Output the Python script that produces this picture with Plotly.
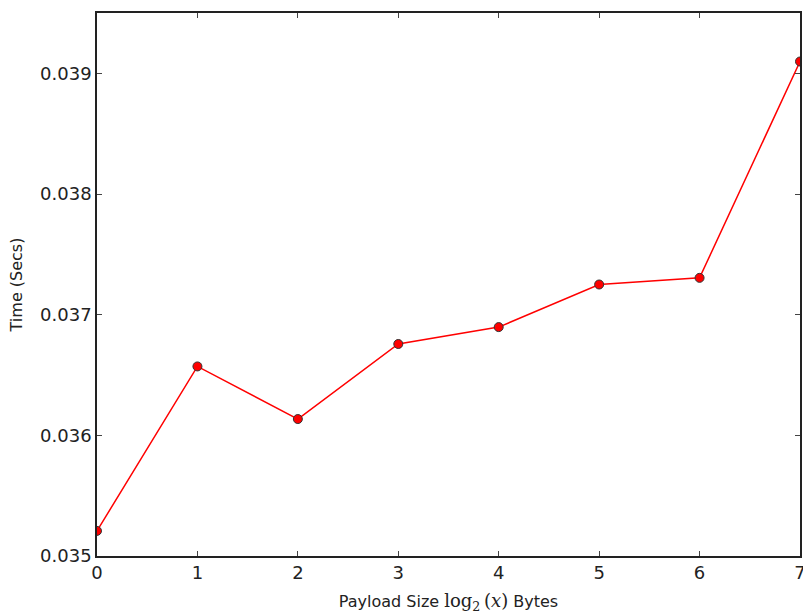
import plotly.graph_objects as go

payload_log2 = [0, 1, 2, 3, 4, 5, 6, 7]
time_secs = [0.035208, 0.036571, 0.036135, 0.036757, 0.036897, 0.037250, 0.037305, 0.039098]
y_ticks = [0.035, 0.036, 0.037, 0.038, 0.039]
x_ticks = [0, 1, 2, 3, 4, 5, 6, 7]

fig = go.Figure()
fig.add_trace(go.Scatter(
    x=payload_log2, y=time_secs, mode="lines+markers",
    line=dict(color="#ff0000", width=1.5),
    marker=dict(color="#ff0000", size=9, line=dict(color="#333333", width=1)),
    cliponaxis=True, showlegend=False,
))

axis_common = dict(
    showgrid=False, zeroline=False, showline=True, linecolor="#222222", linewidth=1.5,
    mirror="allticks", ticks="inside", ticklen=5, tickwidth=1, tickcolor="#444444",
    tickfont=dict(family="DejaVu Sans", size=18, color="#222222"),
    automargin=False, ticklabeloverflow="allow",
)

fig.update_xaxes(range=[0, 7], tickvals=x_ticks, ticktext=[str(v) for v in x_ticks],
                 title=dict(text="Payload Size <span style='font-family:DejaVu Serif;font-size:18px'>log<sub>2</sub>\u2009(<i>x</i>)</span> Bytes",
                            font=dict(family="DejaVu Sans", size=16, color="#222222"), standoff=14),
                 **axis_common)
fig.update_yaxes(range=[0.035, 0.0395], tickvals=y_ticks, ticktext=[f"{v:.3f}" for v in y_ticks],
                 title=dict(text="Time (Secs)", font=dict(family="DejaVu Sans", size=16, color="#222222"), standoff=14),
                 **axis_common)

fig.update_layout(
    width=803, height=614,
    margin=dict(l=97, r=3, t=13, b=58),
    paper_bgcolor="white", plot_bgcolor="white",
)

fig.write_html("out.html", config={"displayModeBar": False},
               post_script="document.body.style.margin='0';document.body.style.overflow='hidden';")
